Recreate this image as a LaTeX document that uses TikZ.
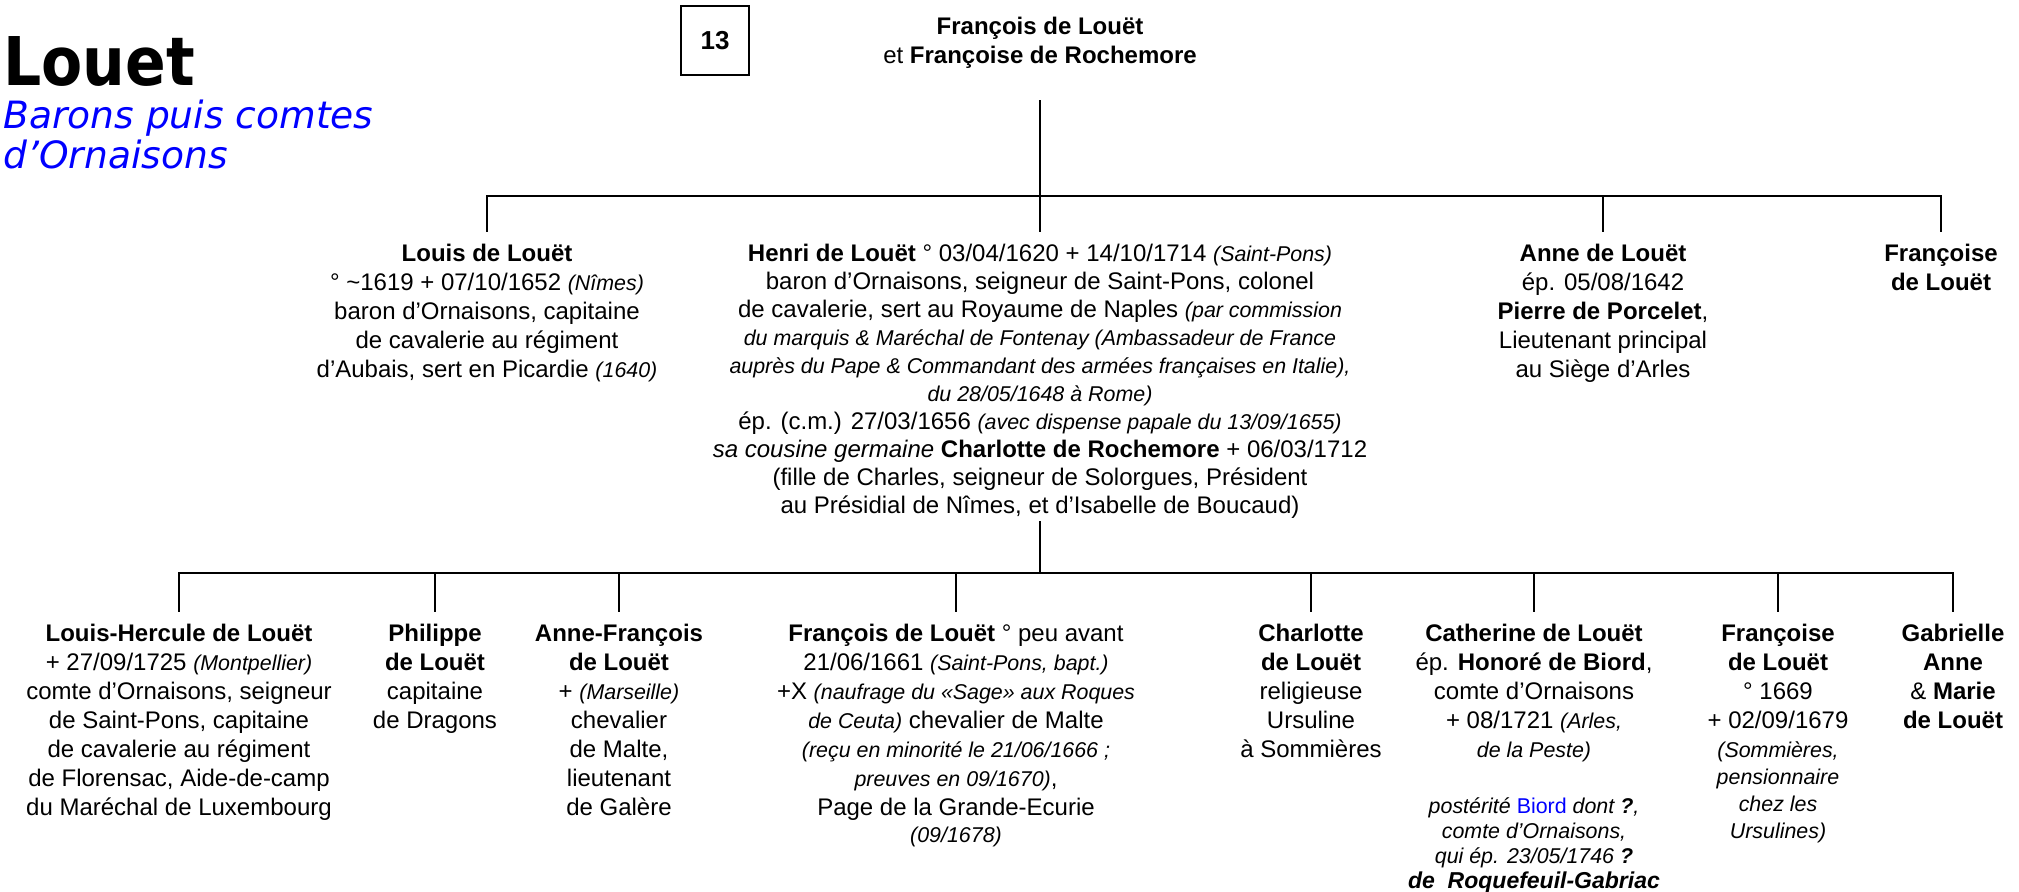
\documentclass[tikz,border=0pt]{standalone}
\usepackage{fontspec}
\setmainfont{Liberation Sans}
\newfontfamily\titlefont{DejaVu Sans}[ItalicFont={DejaVu Sans Oblique},BoldFont={DejaVu Sans Bold}]
\usetikzlibrary{positioning}
\newcommand{\rem}[1]{{\fontsize{10.7}{14.5}\selectfont\itshape #1}}

\begin{document}
\begin{tikzpicture}[x=0.5pt, y=-0.5pt]
% Define styles
\tikzstyle{person} = [align=center, anchor=north, inner xsep=0pt, inner ysep=6pt,
    font=\fontsize{12}{14.5}\selectfont]
\tikzstyle{line} = [draw, line width=1pt]
\tikzstyle{numbox} = [draw, line width=0.6pt, minimum width=34pt, minimum height=34.5pt,
    font=\fontsize{13}{15}\selectfont\bfseries]
\useasboundingbox (0,0) rectangle (2019,891);

    % Title
    \node [anchor=base west, inner sep=0pt, font=\titlefont\fontsize{30}{36}\selectfont\bfseries] (title) at (3,85) {\scalebox{1}[1.12]{Louet}};
    \node [anchor=north west, inner sep=0pt, text=blue, align=left,
        font=\titlefont\fontsize{18.8}{20}\selectfont\itshape] (subtitle) at (3,100) {Barons puis comtes\\d’Ornaisons};
    \node [numbox] (num) at (715,40.5) {13};

    % Parents
    \node [person, inner ysep=0pt] (parent) at (1040,17) {{\bfseries François de Louët}\\et {\bfseries Françoise de Rochemore}};
    \coordinate (top) at (1040,196);
    \coordinate (mid) at (1040,573);

    % First generation
    \node [person] (louis) at (487,232) {{\bfseries Louis de Louët}\\
        ° \textasciitilde1619 + 07/10/1652 \rem{(Nîmes)}\\
        baron d’Ornaisons, capitaine\\
        de cavalerie au régiment\\
        d’Aubais, sert en Picardie \rem{(1640)}};
    \node [person, font=\fontsize{12}{14}\selectfont] (henri) at (1040,232) {{\bfseries Henri de Louët} ° 03/04/1620 + 14/10/1714 \rem{(Saint-Pons)}\\
        baron d’Ornaisons, seigneur de Saint-Pons, colonel\\
        de cavalerie, sert au Royaume de Naples \rem{(par commission}\\
        \rem{du marquis \& Maréchal de Fontenay (Ambassadeur de France}\\
        \rem{auprès du Pape \& Commandant des armées françaises en Italie),}\\
        \rem{du 28/05/1648 à Rome)}\\
        ép. (c.m.) 27/03/1656 \rem{(avec dispense papale du 13/09/1655)}\\
        \textit{sa cousine germaine} {\bfseries Charlotte de Rochemore} + 06/03/1712\\
        (fille de Charles, seigneur de Solorgues, Président\\
        au Présidial de Nîmes, et d’Isabelle de Boucaud)};
    \node [person] (anne) at (1603,232) {{\bfseries Anne de Louët}\\
        ép. 05/08/1642\\
        {\bfseries Pierre de Porcelet},\\
        Lieutenant principal\\
        au Siège d’Arles};
    \node [person] (francoise) at (1941,232) {{\bfseries Françoise}\\{\bfseries de Louët}};

    % Second generation
    \node [person] (lhercule) at (179,612) {{\bfseries Louis-Hercule de Louët}\\
        + 27/09/1725 \rem{(Montpellier)}\\
        comte d’Ornaisons, seigneur\\
        de Saint-Pons, capitaine\\
        de cavalerie au régiment\\
        de Florensac, Aide-de-camp\\
        du Maréchal de Luxembourg};
    \node [person] (philippe) at (435,612) {{\bfseries Philippe}\\{\bfseries de Louët}\\capitaine\\de Dragons};
    \node [person] (annefr) at (619,612) {{\bfseries Anne-François}\\{\bfseries de Louët}\\
        + \rem{(Marseille)}\\chevalier\\de Malte,\\lieutenant\\de Galère};
    \node [person] (francois) at (956,612) {{\bfseries François de Louët} ° peu avant\\
        21/06/1661 \rem{(Saint-Pons, bapt.)}\\
        +X \rem{(naufrage du «Sage» aux Roques}\\
        \rem{de Ceuta)} chevalier de Malte\\
        \rem{(reçu en minorité le 21/06/1666 ;}\\
        \rem{preuves en 09/1670)},\\
        Page de la Grande-Ecurie\\[-1pt]
        \rem{(09/1678)}};
    \node [person] (charlotte) at (1311,612) {{\bfseries Charlotte}\\{\bfseries de Louët}\\religieuse\\Ursuline\\à Sommières};
    \node [person] (catherine) at (1534,612) {{\bfseries Catherine de Louët}\\
        ép. {\bfseries Honoré de Biord},\\
        comte d’Ornaisons\\
        + 08/1721 \rem{(Arles,}\\
        \rem{de la Peste)}\\[13.5pt]
        \rem{postérité {\upshape\color{blue}Biord} dont {\bfseries ?},}\\[-2pt]
        \rem{comte d’Ornaisons,}\\[-2pt]
        \rem{qui ép. 23/05/1746 {\bfseries ?}}\\[-2pt]
        {\fontsize{11.5}{14.5}\selectfont\bfseries\itshape de~ Roquefeuil-Gabriac}};
    \node [person] (francoise2) at (1778,612) {{\bfseries Françoise}\\{\bfseries de Louët}\\
        ° 1669\\+ 02/09/1679\\
        \rem{(Sommières,}\\[-1pt]
        \rem{pensionnaire}\\[-1pt]
        \rem{chez les}\\[-1pt]
        \rem{Ursulines)}};
    \node [person] (gabrielle) at (1953,612) {{\bfseries Gabrielle}\\{\bfseries Anne}\\\& {\bfseries Marie}\\{\bfseries de Louët}};

    % Draw edges
    \path [line] ([yshift=-15.5pt]parent.south) -- (top);
    \path [line] (top) -| (louis);
    \path [line] (top) -- (henri);
    \path [line] (top) -| (anne);
    \path [line] (top) -| (francoise);
    \path [line] ([yshift=5pt]henri.south) -- (mid);
    \path [line] (mid) -| (lhercule);
    \path [line] (mid) -| (philippe);
    \path [line] (mid) -| (annefr);
    \path [line] (mid) -| (francois);
    \path [line] (mid) -| (charlotte);
    \path [line] (mid) -| (catherine);
    \path [line] (mid) -| (francoise2);
    \path [line] (mid) -| (gabrielle);
\end{tikzpicture}
\end{document}
